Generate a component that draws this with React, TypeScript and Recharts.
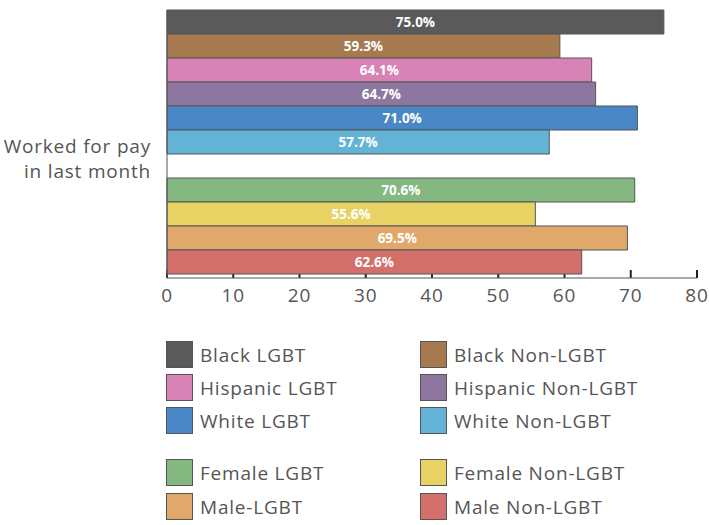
import React from "react";
import { BarChart, Bar, XAxis, YAxis, LabelList, CartesianGrid } from "recharts";

const category = "Worked for pay in last month";
const groups = [
  "Black LGBT",
  "Black Non-LGBT",
  "Hispanic LGBT",
  "Hispanic Non-LGBT",
  "White LGBT",
  "White Non-LGBT",
  "gap",
  "Female LGBT",
  "Female Non-LGBT",
  "Male-LGBT",
  "Male Non-LGBT",
];
const values = [75.0, 59.3, 64.1, 64.7, 71.0, 57.7, null, 70.6, 55.6, 69.5, 62.6];
const colors = [
  "#5a5a5a",
  "#a67a4e",
  "#d883b5",
  "#8d77a1",
  "#4a87c7",
  "#63b3d6",
  "none",
  "#84b880",
  "#e8d263",
  "#e0a96b",
  "#d4706b",
];
const xTicks = [0, 10, 20, 30, 40, 50, 60, 70, 80];

// legend layout: two columns, blank row between race and gender blocks
const legendRows = [
  ["Black LGBT", "Black Non-LGBT"],
  ["Hispanic LGBT", "Hispanic Non-LGBT"],
  ["White LGBT", "White Non-LGBT"],
  ["Female LGBT", "Female Non-LGBT"],
  ["Male-LGBT", "Male Non-LGBT"],
];
const legendRowY = [341, 374, 407, 459, 493];

const row: Record<string, string | number | null> = { name: category };
groups.forEach((g, i) => (row[g] = values[i]));
const data = [row];

const FONT = "'Open Sans', sans-serif";
const TEXT = "#555";
const SPACING = 0.8;

const XTick = ({ x, y, payload }: any) => (
  <text
    x={x}
    y={y + 24}
    textAnchor="middle"
    fill={TEXT}
    fontSize={19}
    fontFamily={FONT}
    letterSpacing={SPACING}
  >
    {payload.value}
  </text>
);

const YTick = ({ x, y }: any) => (
  <text
    x={x - 8}
    y={y}
    textAnchor="end"
    fill={TEXT}
    fontSize={19}
    fontFamily={FONT}
    letterSpacing={SPACING}
  >
    <tspan x={x - 8} dy={9}>Worked for pay</tspan>
    <tspan x={x - 8} dy={25}>in last month</tspan>
  </text>
);

// short inward tick marks, drawn in the grid layer so bars cover them
const tickMark = (p: any) => (
  <line
    key={p.key ?? p.x1}
    x1={p.x1}
    x2={p.x2}
    y1={p.y2 - 8}
    y2={p.y2}
    stroke="#222"
    strokeWidth={2}
  />
);

export default function App() {
  return (
    <div style={{ position: "absolute", left: 0, top: 0, width: 709, height: 525, background: "#fff" }}>
      <BarChart
        width={709}
        height={310}
        data={data}
        layout="vertical"
        barCategoryGap={0}
        barGap={0}
        margin={{ top: 10, right: 12, bottom: 0, left: 7 }}
      >
        <CartesianGrid horizontal={false} vertical={tickMark} />
        <XAxis
          type="number"
          domain={[0, 80]}
          ticks={xTicks}
          tick={<XTick />}
          tickSize={0}
          tickMargin={0}
          tickLine={false}
          stroke={TEXT}
          height={32}
        />
        <YAxis
          type="category"
          dataKey="name"
          width={160}
          tick={<YTick />}
          tickLine={false}
          stroke={TEXT}
        />
        {groups.map((g, i) => (
          <Bar
            key={g}
            dataKey={g}
            fill={colors[i]}
            stroke={g === "gap" ? "none" : "#555"}
            strokeWidth={1}
            isAnimationActive={false}
          >
            {g !== "gap" && (
              <LabelList
                dataKey={g}
                position="center"
                fill="#fff"
                fontSize={13.5}
                fontWeight={700}
                fontFamily={FONT}
                formatter={(v: any) => `${Number(v).toFixed(1)}%`}
              />
            )}
          </Bar>
        ))}
      </BarChart>
      {legendRows.map((pair, r) =>
        pair.map((name, c) => {
          const idx = groups.indexOf(name);
          return (
            <div
              key={name}
              style={{
                position: "absolute",
                left: c === 0 ? 166 : 420,
                top: legendRowY[r],
                display: "flex",
                alignItems: "center",
                fontFamily: FONT,
                fontSize: 19,
                letterSpacing: SPACING,
                color: TEXT,
              }}
            >
              <span
                style={{
                  width: 25,
                  height: 25,
                  background: colors[idx],
                  border: "1px solid #555",
                  marginRight: 7,
                  display: "inline-block",
                }}
              />
              {name}
            </div>
          );
        })
      )}
    </div>
  );
}
